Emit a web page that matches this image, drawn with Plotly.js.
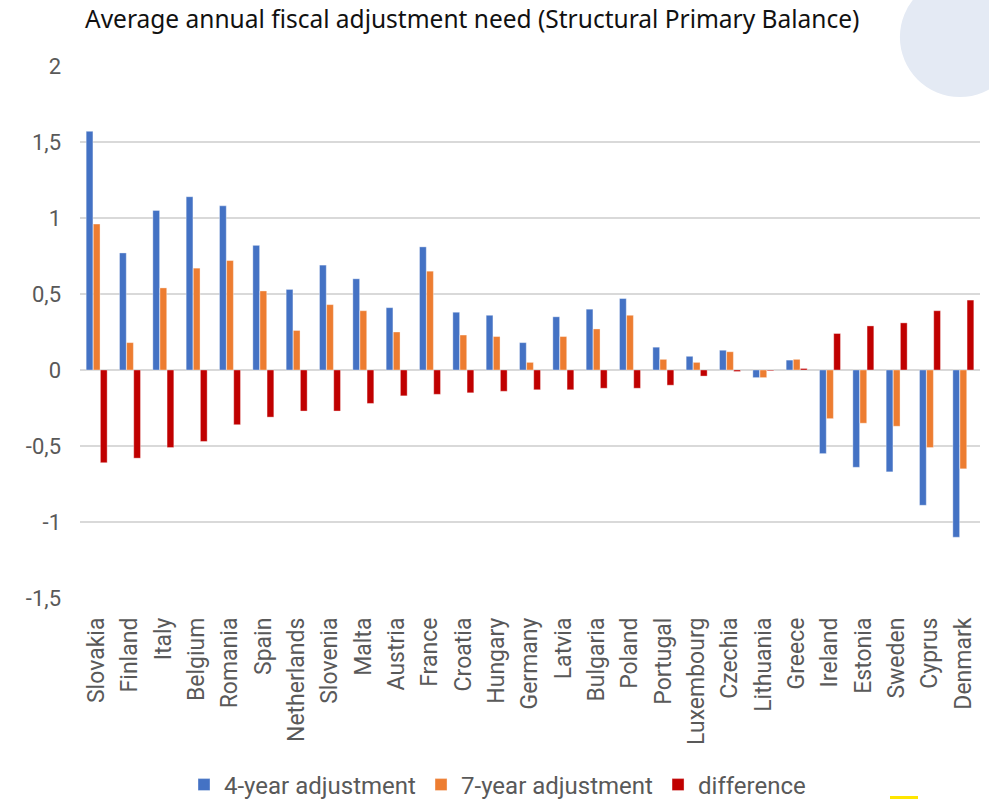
<!DOCTYPE html>
<html>
<head>
<meta charset="utf-8">
<script src="https://cdn.plot.ly/plotly-3.0.1.min.js"></script>
<style>html,body{margin:0;padding:0;background:#fff;}#chart{width:989px;height:799px;}</style>
</head>
<body>
<div id="chart"></div>
<script>
const countries = ["Slovakia","Finland","Italy","Belgium","Romania","Spain","Netherlands","Slovenia","Malta","Austria","France","Croatia","Hungary","Germany","Latvia","Bulgaria","Poland","Portugal","Luxembourg","Czechia","Lithuania","Greece","Ireland","Estonia","Sweden","Cyprus","Denmark"];
const adj4 = [1.57,0.77,1.05,1.14,1.08,0.82,0.53,0.69,0.60,0.41,0.81,0.38,0.36,0.18,0.35,0.40,0.47,0.15,0.09,0.13,-0.05,0.065,-0.55,-0.64,-0.67,-0.89,-1.10];
const adj7 = [0.96,0.18,0.54,0.67,0.72,0.52,0.26,0.43,0.39,0.25,0.65,0.23,0.22,0.05,0.22,0.27,0.36,0.07,0.05,0.12,-0.05,0.07,-0.32,-0.35,-0.37,-0.51,-0.65];
const diff = [-0.61,-0.58,-0.51,-0.47,-0.36,-0.31,-0.27,-0.27,-0.22,-0.17,-0.16,-0.15,-0.14,-0.13,-0.13,-0.12,-0.12,-0.10,-0.04,-0.01,-0.005,0.01,0.24,0.29,0.31,0.39,0.46];
const yTickVals = [-1.5,-1,-0.5,0,0.5,1,1.5,2];
const yTickText = ["-1,5","-1","-0,5","0","0,5","1","1,5","2"];

const lineStyle = {color:'rgba(255,255,255,0.6)', width:0.6};
const traces = [
  {type:'bar', name:'4-year adjustment', x:countries, y:adj4, marker:{color:'#4472c4', line:lineStyle}},
  {type:'bar', name:'7-year adjustment', x:countries, y:adj7, marker:{color:'#ed7d31', line:lineStyle}},
  {type:'bar', name:'difference', x:countries, y:diff, marker:{color:'#c00000', line:lineStyle}}
];

const layout = {
  width:989, height:799,
  margin:{l:80, r:9, t:66, b:201, autoexpand:false},
  paper_bgcolor:'#ffffff', plot_bgcolor:'#ffffff',
  font:{family:'Roboto, "Liberation Sans", sans-serif', color:'#595959'},
  title:{text:'Average annual fiscal adjustment need (Structural Primary Balance)',
    x:85/989, xanchor:'left', xref:'container', y:1-19/799, yanchor:'middle', yref:'container',
    font:{size:24.5, color:'#111111', family:'"Noto Sans", "Open Sans", sans-serif'}},
  barmode:'group', bargap:0.36, bargroupgap:0.05,
  showlegend:true,
  legend:{orientation:'h', x:(184-80)/900, xanchor:'left', y:(598-785)/532, yanchor:'middle',
    font:{size:24, color:'#595959'}, traceorder:'normal', itemwidth:30, tracegroupgap:0},
  xaxis:{type:'category', tickangle:-90, tickfont:{size:23, color:'#595959'}, ticks:'', showgrid:false,
    showline:false, zeroline:false, ticklabelstandoff:14, automargin:false},
  yaxis:{range:[-1.5,2], tickvals:yTickVals, ticktext:yTickText, tickfont:{size:22, color:'#595959'},
    showgrid:true, gridcolor:'#d9d9d9', gridwidth:1.5, zeroline:true, zerolinecolor:'#d9d9d9', zerolinewidth:2,
    ticks:'', showline:false, ticklabelstandoff:18, automargin:false},
  shapes:[
    {type:'circle', xref:'paper', yref:'paper', x0:0.911, x1:1.0444, y0:0.9417, y1:1.167,
      fillcolor:'#e4eaf4', line:{width:0}, layer:'below'},
    {type:'rect', xref:'paper', yref:'paper', x0:(890-80)/900, x1:(918-80)/900, y0:(598-799)/532, y1:(598-796)/532,
      fillcolor:'#ffe600', line:{width:0}, layer:'above'}
  ]
};
Plotly.newPlot('chart', traces, layout, {displayModeBar:false, staticPlot:true});
</script>
</body>
</html>
